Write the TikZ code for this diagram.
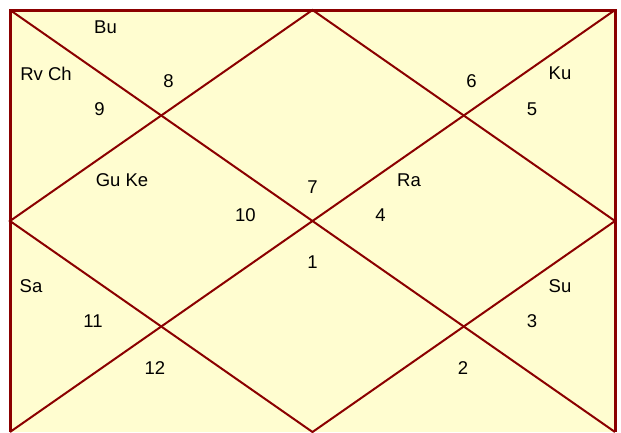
\documentclass[tikz,border=0pt]{standalone}
\usepackage{fontspec}
\setmainfont{Liberation Sans}
\definecolor{chartfill}{HTML}{FFFDD0}
\definecolor{chartline}{HTML}{8B0000}

\begin{document}
\begin{tikzpicture}[
    x=1pt, y=-1pt,
    every node/.style={font=\fontsize{18.5}{20}\selectfont, inner sep=0pt, text=black},
    frame/.style={draw=chartline, line width=3pt},
    diag/.style={draw=chartline, line width=2pt},
    house/.style={anchor=center},
    graha/.style={anchor=center},
]
\useasboundingbox (0,0) rectangle (621,432);

% ============================================================ the frame
\coordinate (tl) at (10,10);
\coordinate (tr) at (615,10);
\coordinate (bl) at (10,432);
\coordinate (br) at (615,432);
\coordinate (tm) at (312.5,10);
\coordinate (bm) at (312.5,432);
\coordinate (lm) at (10,221);
\coordinate (rm) at (615,221);

\fill[chartfill] (tl) rectangle (br);
\draw[frame] (bl) -- (tl) -- (tr) -- (br);
\draw[diag] (tl) -- (br);
\draw[diag] (tr) -- (bl);
\draw[diag] (tm) -- (rm) -- (bm) -- (lm) -- cycle;

% ============================================================ house numbers
\foreach \n/\x/\y in {1/312.5/262.5, 2/463/368, 3/532/321, 4/380.5/215,
                      5/532/109.5, 6/471.5/81, 7/312.5/187, 8/168.5/81,
                      9/99.5/109.5, 10/245.5/215, 11/93/321, 12/155/368}{
    \node[house] (h\n) at (\x,\y) {\n};
}

% ============================================================ planets
\node[graha] (bu)   at (105.5,27) {Bu};
\node[graha] (rvch) at (46,74)    {Rv Ch};
\node[graha] (ku)   at (560,73)   {Ku};
\node[graha] (guke) at (122,180)  {Gu Ke};
\node[graha] (ra)   at (409,180)  {Ra};
\node[graha] (sa)   at (31,286)   {Sa};
\node[graha] (su)   at (560,286)  {Su};

\end{tikzpicture}
\end{document}
